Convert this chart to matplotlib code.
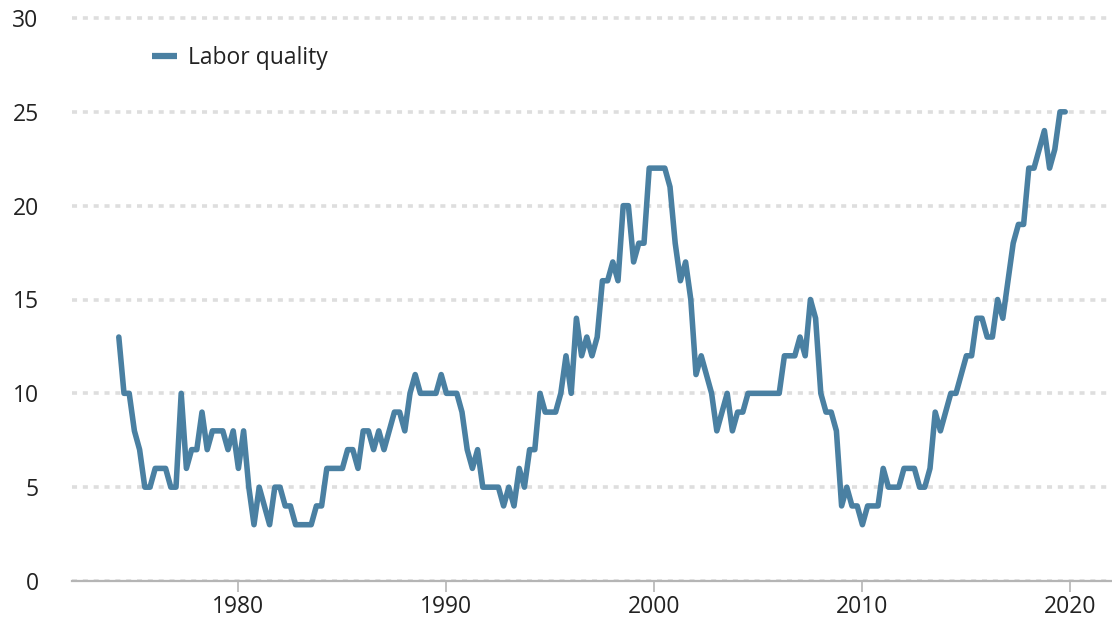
import matplotlib
matplotlib.use("Agg")
import matplotlib.pyplot as plt
from matplotlib.lines import Line2D
import numpy as np

# Quarterly series, 1974Q2 .. 2019Q4
start_year = 1974.25
labor_quality = [
    13, 10, 10, 8, 7, 5, 5, 6, 6, 6,
    5, 5, 10, 6, 7, 7, 9, 7, 8, 8,
    8, 7, 8, 6, 8, 5, 3, 5, 4, 3,
    5, 5, 4, 4, 3, 3, 3, 3, 4, 4,
    6, 6, 6, 6, 7, 7, 6, 8, 8, 7,
    8, 7, 8, 9, 9, 8, 10, 11, 10, 10,
    10, 10, 11, 10, 10, 10, 9, 7, 6, 7,
    5, 5, 5, 5, 4, 5, 4, 6, 5, 7,
    7, 10, 9, 9, 9, 10, 12, 10, 14, 12,
    13, 12, 13, 16, 16, 17, 16, 20, 20, 17,
    18, 18, 22, 22, 22, 22, 21, 18, 16, 17,
    15, 11, 12, 11, 10, 8, 9, 10, 8, 9,
    9, 10, 10, 10, 10, 10, 10, 10, 12, 12,
    12, 13, 12, 15, 14, 10, 9, 9, 8, 4,
    5, 4, 4, 3, 4, 4, 4, 6, 5, 5,
    5, 6, 6, 6, 5, 5, 6, 9, 8, 9,
    10, 10, 11, 12, 12, 14, 14, 13, 13, 15,
    14, 16, 18, 19, 19, 22, 22, 23, 24, 22,
    23, 25, 25,
]
series_label = "Labor quality"
x_ticks = [1980, 1990, 2000, 2010, 2020]
y_ticks = [0, 5, 10, 15, 20, 25, 30]

years = start_year + np.arange(len(labor_quality)) / 4.0

LINE_COLOR = "#4a80a2"
GRID_COLOR = "#dedede"
TEXT_COLOR = "#222222"
FS = 16.5

plt.rcParams['font.family'] = ['Open Sans', 'DejaVu Sans']

W, H = 1112, 621
fig = plt.figure(figsize=(W / 100, H / 100), dpi=100)

# axes placement in pixels
left_px, right_px = 72, 1112
bottom_px = 581            # y pixel of value 0 (from top)
px_per_unit = (581 - 18) / 30.0
ymax = 30.5
top_px = bottom_px - ymax * px_per_unit
ax = fig.add_axes([left_px / W, 1 - bottom_px / H,
                   (right_px - left_px) / W, (bottom_px - top_px) / H])

ax.set_xlim(1972, 2022)
ax.set_ylim(0, ymax)

for v in y_ticks:
    ax.axhline(v, color=GRID_COLOR, lw=2.6, linestyle=(0, (1.4, 1.6)),
               zorder=1, dash_capstyle='butt')

ax.plot(years, labor_quality, color=LINE_COLOR, lw=4.0,
        solid_capstyle='round', solid_joinstyle='round', zorder=3)

for s in ['top', 'right', 'left']:
    ax.spines[s].set_visible(False)
ax.spines['bottom'].set_color('#b5b5b5')
ax.spines['bottom'].set_linewidth(1.6)
ax.spines['bottom'].set_zorder(2)

ax.set_xticks(x_ticks)
ax.set_xticklabels([str(t) for t in x_ticks])
ax.set_yticks(y_ticks)
ax.set_yticklabels([str(t) for t in y_ticks])
ax.tick_params(axis='x', length=8, width=1.2, color='#b5b5b5', pad=2,
               labelsize=FS, labelcolor=TEXT_COLOR)
ax.tick_params(axis='y', length=0, pad=24, labelsize=FS,
               labelcolor=TEXT_COLOR)

handle = Line2D([], [], color=LINE_COLOR, lw=4.5, solid_capstyle='butt')
fig.legend([handle], [series_label], loc='center left',
           bbox_to_anchor=(152 / W, 1 - 58 / H), frameon=False,
           borderpad=0, borderaxespad=0, handlelength=1.08,
           handletextpad=0.47, fontsize=FS, labelcolor=TEXT_COLOR)

fig.savefig("out.png", dpi=100)
